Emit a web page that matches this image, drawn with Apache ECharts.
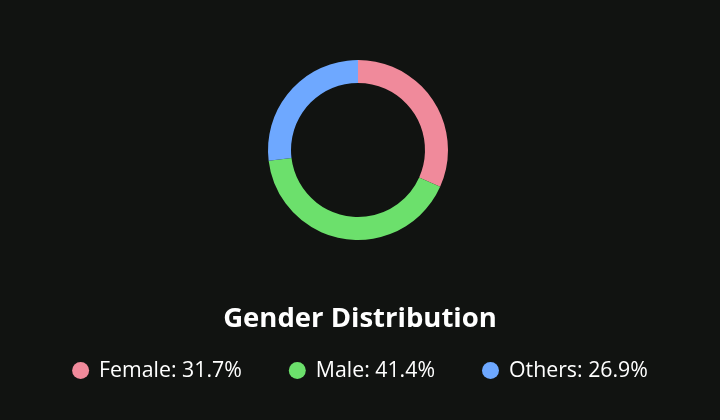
<!DOCTYPE html>
<html><head><meta charset="utf-8">
<script src="https://cdn.jsdelivr.net/npm/echarts@6/dist/echarts.min.js"></script>
<style>html,body{margin:0;padding:0;background:#111311;}#c{width:720px;height:420px;}</style>
</head><body><div id="c"></div>
<script>
const categories = ['Female', 'Male', 'Others'];
const values = [31.7, 41.4, 26.9];
const colors = ['#F08A9B', '#6CE06C', '#6EA8FF'];
const titleText = 'Gender Distribution';

const chart = echarts.init(document.getElementById('c'));
chart.setOption({
  backgroundColor: '#111311',
  color: colors,
  title: {
    text: titleText,
    left: 'center',
    top: 300,
    textStyle: { color: '#ffffff', fontSize: 27.5, fontWeight: 'bold', fontFamily: 'Open Sans' }
  },
  legend: {
    bottom: 34,
    left: 'center',
    icon: 'circle',
    itemWidth: 17,
    itemHeight: 17,
    itemGap: 47,
    data: categories,
    formatter: function (name) {
      const i = categories.indexOf(name);
      return name + ': ' + values[i].toFixed(1) + '%';
    },
    textStyle: { color: '#ffffff', fontSize: 21.3, fontFamily: 'Open Sans', padding: [0, 0, 0, 5] }
  },
  series: [{
    type: 'pie',
    radius: [67, 90],
    center: [358, 150],
    startAngle: 90,
    clockwise: true,
    label: { show: false },
    labelLine: { show: false },
    emphasis: { disabled: true },
    animation: false,
    itemStyle: { borderWidth: 0 },
    data: categories.map((c, i) => ({ name: c, value: values[i] }))
  }]
});
</script></body></html>
